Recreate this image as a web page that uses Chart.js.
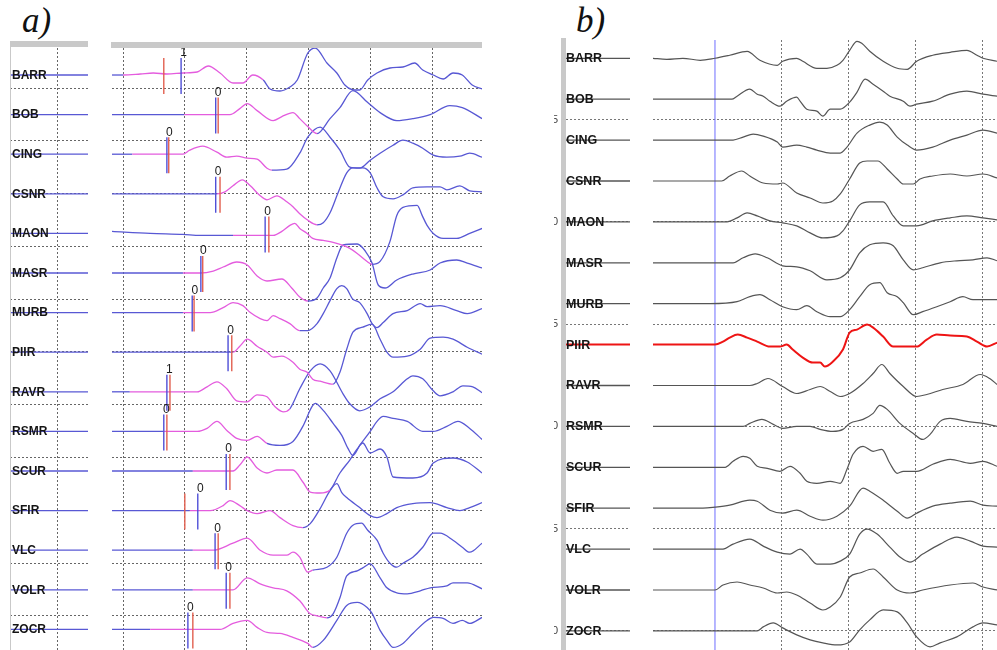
<!DOCTYPE html>
<html>
<head>
<meta charset="utf-8">
<script src="https://cdn.jsdelivr.net/npm/chart.js@4.4.0/dist/chart.umd.min.js"></script>
<style>
body { margin: 0; background: #fff; width: 997px; height: 650px; overflow: hidden; position: relative; }
canvas { position: absolute; }
.tag { position: absolute; font: italic 35px/35px "Liberation Serif", "Times New Roman", serif; color: #111; }
.bar { position: absolute; background: #c9c9c9; z-index: 2; }
</style>
</head>
<body>
<div class="tag" style="left:22px;top:3px">a)</div>
<div class="tag" style="left:576px;top:3px">b)</div>
<div class="bar" style="left:10px;top:41px;width:78px;height:6px"></div>
<div class="bar" style="left:10px;top:41px;width:1px;height:609px"></div>
<div class="bar" style="left:111px;top:42px;width:371px;height:6px"></div>
<div class="bar" style="left:561px;top:38px;width:5px;height:612px"></div>
<canvas id="stripA" width="78" height="602" style="left:10px;top:48px"></canvas>
<canvas id="mainA" width="370" height="602" style="left:112px;top:48px"></canvas>
<canvas id="stripB" width="81" height="610" style="left:549px;top:40px"></canvas>
<canvas id="mainB" width="344" height="610" style="left:653px;top:40px"></canvas>
<script>
// stations, top to bottom
const stations = ['BARR', 'BOB', 'CING', 'CSNR', 'MAON', 'MASR', 'MURB', 'PIIR', 'RAVR', 'RSMR', 'SCUR', 'SFIR', 'VLC', 'VOLR', 'ZOCR'];

// panel a picks (s) and their weights
const pickBlueA = [0.94, 1.50, 0.71, 1.50, 2.30, 1.26, 1.12, 1.70, 0.71, 0.66, 1.67, 1.21, 1.49, 1.67, 1.05];
const pickRedA = [0.66, 1.54, 0.74, 1.57, 2.36, 1.29, 1.15, 1.76, 0.76, 0.71, 1.73, 1.00, 1.54, 1.73, 1.13];
const pickWeightA = ['1', '0', '0', '0', '0', '0', '0', '0', '1', '0', '0', '0', '0', '0', '0'];
// window shown in pink (start, end) per station
const pinkA = [[0, 2.27], [0.99, 3.14], [0.15, 2.41], [1.52, 3.14], [1.78, 4.03], [0.97, 2.99], [0.97, 2.86], [1.78, 3.4],
  [0.11, 2.7], [0.65, 2.33], [1.13, 3.35], [1.08, 2.91], [1.13, 3.07], [1.13, 3.3], [0.44, 3.07]];

// grid positions
const timeGridA = [0, 1, 2, 3, 4, 5];
const rowGridA = [0.34, 1.67, 3.01, 4.34, 5.67, 7.01, 8.34, 9.67, 11.01, 12.34, 13.67];
const stripGridA = [0.615];
const timeGridB = [1, 2, 3, 4];
const rowGridB = [0, 2.5, 5, 7.5, 10, 12.5];
const cutTickB = ['0', '5', '0', '5', '0', '5'];   // last digits of the clipped distance labels

// panel a traces: [time s, amplitude]
const barrA = [[-0.18,0],[0,0],[0.28,1],[0.49,2],[0.71,1],[0.97,2],[1.2,3],[1.38,9],[1.57,2],[1.78,-8],[1.94,-8],[2.1,0],[2.27,-5],[2.38,-14],[2.54,-16],[2.7,-12],[2.82,-5],[2.99,22],[3.11,27],[3.3,12],[3.46,2],[3.59,-10],[3.75,-15],[3.83,-15],[3.96,-5],[4.11,2],[4.32,7],[4.53,8],[4.72,12],[4.85,5],[5.02,0],[5.18,-4],[5.34,2],[5.49,0],[5.65,-10],[5.81,-14]];
const bobA = [[-0.18,0],[0.99,0],[1.73,0],[1.89,6],[2.01,11],[2.17,4],[2.43,-6],[2.57,-2],[2.75,2],[2.86,-4],[2.99,-12],[3.14,-19],[3.35,-4],[3.51,7],[3.72,24],[3.96,12],[4.16,2],[4.43,-6],[4.69,-4],[4.97,0],[5.29,9],[5.49,7],[5.81,-4]];
const cingA = [[-0.18,0],[0.15,0],[0.97,0],[1.08,4],[1.29,8],[1.52,2],[1.68,-3],[1.84,-2],[2.01,-4],[2.17,-5],[2.33,-14],[2.41,-16],[2.65,-15],[2.86,1],[2.99,17],[3.19,27],[3.35,17],[3.51,4],[3.67,-13],[3.83,-14],[4,-6],[4.16,1],[4.37,9],[4.53,14],[4.69,11],[4.85,6],[5.02,-1],[5.24,-3],[5.45,-2],[5.61,1],[5.81,-3]];
const csnrA = [[-0.18,0],[1.52,0],[1.65,2],[1.78,8],[1.93,14],[2.06,8],[2.22,-2],[2.33,-6],[2.49,-2],[2.65,-8],[2.75,-13],[2.86,-20],[2.98,-26],[3.14,-31],[3.24,-29],[3.35,-19],[3.48,1],[3.62,21],[3.72,26],[3.88,26],[4,21],[4.11,6],[4.21,-3],[4.37,-5],[4.53,-1],[4.69,6],[4.92,7],[5.13,7],[5.24,4],[5.45,8],[5.61,3],[5.81,2]];
const maonA = [[-0.18,2],[0.44,0],[0.97,-1],[1.25,-2],[1.78,-2],[2.43,-2],[2.57,2],[2.7,8],[2.78,10],[2.86,5],[2.98,0],[3.07,-5],[3.24,-7],[3.4,-9],[3.56,-12],[3.67,-15],[3.79,-20],[3.95,-28],[4.03,-31],[4.16,-28],[4.32,-8],[4.43,18],[4.53,26],[4.76,28],[4.84,18],[4.92,8],[5.02,0],[5.18,-5],[5.4,-5],[5.61,0],[5.81,5]];
const masrA = [[-0.18,0],[0.97,0],[1.25,0],[1.46,2],[1.62,6],[1.84,11],[2.01,8],[2.17,-3],[2.33,-8],[2.57,-6],[2.73,-15],[2.86,-24],[2.99,-28],[3.14,-25],[3.24,-15],[3.35,-5],[3.46,15],[3.56,28],[3.79,29],[3.92,22],[4.03,10],[4.13,-12],[4.24,-15],[4.43,-7],[4.69,-1],[4.97,3],[5.13,10],[5.4,13],[5.57,10],[5.81,5]];
const murbA = [[-0.18,0],[0.97,0],[1.41,0],[1.62,5],[1.78,10],[1.94,7],[2.06,0],[2.22,-6],[2.33,-8],[2.43,-3],[2.54,-6],[2.7,-11],[2.86,-18],[2.99,-18],[3.14,-11],[3.24,-1],[3.35,12],[3.46,24],[3.54,27],[3.62,24],[3.71,14],[3.83,10],[3.95,-1],[4.03,-11],[4.11,-15],[4.21,-10],[4.37,-1],[4.6,2],[4.81,9],[4.92,6],[5.13,7],[5.4,2],[5.57,-1],[5.81,4]];
const piirA = [[-0.18,0],[1.78,0],[1.89,6],[2.01,13],[2.17,6],[2.33,0],[2.43,-5],[2.57,-4],[2.75,-10],[2.86,-17],[2.98,-20],[3.07,-27],[3.19,-29],[3.4,-32],[3.51,-20],[3.62,3],[3.72,20],[3.88,25],[4.03,28],[4.16,13],[4.27,0],[4.37,-5],[4.6,-4],[4.81,3],[4.97,14],[5.18,15],[5.34,13],[5.57,5],[5.81,-2]];
const ravrA = [[-0.18,0],[0.11,0],[1.2,0],[1.36,5],[1.52,10],[1.68,3],[1.84,-9],[2.01,-10],[2.17,-3],[2.33,-5],[2.46,-15],[2.59,-20],[2.7,-17],[2.86,3],[3.03,21],[3.19,28],[3.35,21],[3.56,-2],[3.67,-12],[3.83,-19],[4,-15],[4.16,-7],[4.37,0],[4.6,13],[4.69,16],[4.85,13],[5.02,1],[5.13,-4],[5.34,0],[5.5,6],[5.66,5],[5.81,-1]];
const rsmrA = [[-0.18,0],[0.65,0],[1.2,0],[1.36,3],[1.52,10],[1.68,1],[1.84,-7],[2.01,-9],[2.17,-5],[2.33,-12],[2.54,-14],[2.75,-10],[2.91,5],[3.06,25],[3.11,28],[3.24,21],[3.4,8],[3.54,-4],[3.64,-17],[3.72,-24],[3.83,-14],[4,0],[4.11,10],[4.21,15],[4.37,13],[4.6,10],[4.85,0],[5.02,0],[5.24,5],[5.42,10],[5.61,3],[5.81,-8]];
const scurA = [[-0.18,0],[1.13,0],[1.78,0],[1.89,6],[2.01,14],[2.17,3],[2.33,-2],[2.49,1],[2.75,1],[2.91,-11],[3.03,-21],[3.19,-22],[3.35,-19],[3.51,-2],[3.67,11],[3.79,22],[3.88,28],[4,18],[4.16,22],[4.27,14],[4.37,-6],[4.69,-7],[4.92,-2],[5.02,8],[5.34,13],[5.57,9],[5.81,-2]];
const sfirA = [[-0.18,0],[1.08,0],[1.41,0],[1.62,5],[1.73,10],[1.89,5],[2.01,0],[2.17,-3],[2.38,0],[2.54,-7],[2.75,-15],[2.91,-17],[3.03,-13],[3.19,2],[3.35,20],[3.46,27],[3.54,18],[3.62,13],[3.83,3],[4,-5],[4.11,-7],[4.27,-3],[4.43,3],[4.69,7],[4.97,8],[5.24,3],[5.45,0],[5.61,3],[5.81,8]];
const vlcA = [[-0.18,0],[1.13,0],[1.46,0],[1.78,7],[2.01,12],[2.22,0],[2.43,-5],[2.65,-5],[2.75,-2],[2.86,-7],[2.99,-22],[3.07,-20],[3.3,-17],[3.46,-7],[3.62,17],[3.72,25],[3.86,27],[3.96,20],[4.11,10],[4.21,-3],[4.32,-13],[4.43,-17],[4.53,-13],[4.69,-7],[4.85,3],[5.02,17],[5.13,17],[5.34,10],[5.49,3],[5.61,-2],[5.81,7]];
const volrA = [[-0.18,0],[1.13,0],[1.78,0],[2.01,12],[2.22,6],[2.43,2],[2.65,-1],[2.86,-11],[3.03,-24],[3.14,-26],[3.3,-28],[3.4,-24],[3.51,-8],[3.62,14],[3.79,19],[3.88,22],[4,26],[4.16,12],[4.27,2],[4.43,-3],[4.6,-4],[4.81,-1],[4.97,2],[5.24,4],[5.34,7],[5.57,7],[5.81,1]];
const zocrA = [[-0.18,0],[0.44,0],[1.57,0],[1.78,6],[2.01,9],[2.17,2],[2.33,-3],[2.54,-4],[2.75,-8],[2.99,-14],[3.07,-18],[3.24,-11],[3.46,9],[3.62,24],[3.79,27],[3.95,22],[4.03,16],[4.16,-1],[4.27,-11],[4.37,-18],[4.53,-14],[4.69,-4],[4.92,9],[5.02,12],[5.18,11],[5.34,6],[5.49,9],[5.61,6],[5.81,12]];

// panel b traces, aligned on the pick: [time s, amplitude]
const barrB = [[-0.93,0],[-0.72,-1],[-0.48,0],[-0.22,-2],[0,0],[0.22,3],[0.48,7],[0.67,-2],[0.93,-7],[1.01,-3],[1.22,0],[1.31,-3],[1.52,-10],[1.67,-10],[1.82,-7],[1.91,-2],[2.01,8],[2.12,17],[2.19,15],[2.31,7],[2.51,-3],[2.72,-10],[2.87,-11],[3.01,-3],[3.25,3],[3.51,6],[3.76,8],[3.91,3],[4,0],[4.21,-3]];
const bobB = [[-0.93,0],[0.25,0],[0.33,3],[0.52,10],[0.63,5],[0.72,3],[0.82,-2],[0.97,-7],[1.07,-2],[1.22,2],[1.27,-2],[1.37,-10],[1.52,-12],[1.61,-17],[1.72,-10],[1.87,-10],[2.01,-3],[2.12,7],[2.24,20],[2.36,15],[2.51,8],[2.61,3],[2.81,-2],[2.91,-7],[3.01,-5],[3.25,-2],[3.51,5],[3.76,8],[4,5],[4.21,3]];
const cingB = [[-0.93,0],[0.27,0],[0.42,3],[0.57,6],[0.72,4],[0.93,-2],[1.01,-7],[1.22,-5],[1.37,-7],[1.52,-10],[1.72,-13],[1.87,-13],[1.97,-7],[2.12,7],[2.31,15],[2.46,18],[2.57,15],[2.72,3],[2.87,-5],[3.01,-10],[3.25,-7],[3.51,0],[3.76,5],[4,10],[4.21,7]];
const csnrB = [[-0.93,0],[0.1,0],[0.22,5],[0.4,10],[0.52,5],[0.72,-2],[0.93,-3],[1.01,-2],[1.22,-12],[1.42,-17],[1.61,-22],[1.76,-20],[1.87,-13],[2.01,2],[2.16,18],[2.27,20],[2.43,20],[2.57,12],[2.72,2],[2.81,-3],[2.96,-3],[3.06,2],[3.25,5],[3.51,7],[3.76,5],[4,7],[4.21,3]];
const maonB = [[-0.93,0],[0.18,0],[0.33,4],[0.48,9],[0.63,6],[0.82,1],[1.01,-1],[1.22,-4],[1.42,-11],[1.61,-16],[1.82,-14],[1.91,-9],[2.01,1],[2.16,17],[2.31,20],[2.51,20],[2.66,6],[2.81,-4],[3.01,-4],[3.25,1],[3.51,4],[3.76,6],[4,4],[4.21,2]];
const masrB = [[-0.93,0],[0.27,0],[0.42,5],[0.6,9],[0.78,5],[1.01,-3],[1.22,-4],[1.42,-8],[1.67,-17],[1.87,-15],[2.01,-7],[2.16,10],[2.31,18],[2.51,20],[2.66,17],[2.81,3],[2.96,-7],[3.1,-5],[3.36,0],[3.61,2],[3.85,3],[4.06,5],[4.21,2]];
const murbB = [[-0.93,0],[-0.07,0],[0.33,2],[0.52,7],[0.67,9],[0.82,4],[1.01,-3],[1.22,-6],[1.37,-2],[1.52,-8],[1.72,-13],[1.87,-13],[2.01,-6],[2.16,7],[2.31,19],[2.46,21],[2.57,11],[2.72,7],[2.81,1],[2.96,-11],[3.1,-8],[3.31,-3],[3.51,2],[3.7,7],[3.85,4],[4.21,4]];
const piirB = [[-0.93,0],[0,0],[0.12,3],[0.22,7],[0.34,10],[0.48,7],[0.63,3],[0.82,-2],[0.97,-2],[1.07,0],[1.16,-5],[1.31,-13],[1.46,-18],[1.57,-18],[1.64,-22],[1.76,-17],[1.91,-5],[2.01,12],[2.12,15],[2.27,20],[2.36,17],[2.51,8],[2.66,-2],[2.81,-2],[3.01,-2],[3.16,5],[3.31,10],[3.51,9],[3.76,8],[3.91,3],[4.06,-2],[4.21,2]];
const ravrB = [[-0.93,0],[0.52,0],[0.63,2],[0.79,7],[1.01,-1],[1.22,-8],[1.42,-4],[1.57,-1],[1.72,-6],[1.87,-11],[2.01,-8],[2.21,2],[2.36,12],[2.49,21],[2.61,12],[2.81,-1],[3.01,-11],[3.16,-9],[3.4,-4],[3.7,1],[3.96,11],[4.1,7],[4.21,1]];
const rsmrB = [[-0.93,0],[0.42,0],[0.52,3],[0.7,7],[0.87,2],[1.01,-2],[1.22,0],[1.42,0],[1.57,-3],[1.76,-5],[1.91,-3],[2.01,3],[2.21,7],[2.36,13],[2.46,21],[2.57,17],[2.76,3],[2.96,-7],[3.1,-13],[3.21,-8],[3.36,5],[3.51,8],[3.76,5],[4,3],[4.21,0]];
const scurB = [[-0.93,0],[0.15,0],[0.27,6],[0.42,11],[0.52,9],[0.63,1],[0.78,-1],[0.97,-4],[1.12,1],[1.27,-6],[1.37,-14],[1.52,-16],[1.72,-14],[1.87,-16],[1.97,-2],[2.06,13],[2.21,21],[2.36,16],[2.49,18],[2.61,4],[2.72,-6],[2.81,-4],[3.01,-4],[3.25,3],[3.51,8],[3.81,4],[4,6],[4.21,1]];
const sfirB = [[-0.93,0],[-0.18,0],[0,1],[0.22,3],[0.52,8],[0.63,7],[0.82,-2],[1.01,-5],[1.22,-2],[1.42,-8],[1.61,-12],[1.82,-8],[2.01,2],[2.21,20],[2.31,17],[2.51,8],[2.72,-3],[2.87,-10],[3.01,-5],[3.25,2],[3.51,5],[3.81,7],[4,3],[4.21,2]];
const vlcB = [[-0.93,0],[0.12,0],[0.27,5],[0.52,10],[0.72,3],[0.93,-3],[1.12,-5],[1.27,0],[1.37,-5],[1.52,-15],[1.72,-15],[1.87,-12],[2.01,-5],[2.16,15],[2.27,20],[2.42,15],[2.61,2],[2.76,-8],[2.91,-13],[3.1,-5],[3.36,5],[3.61,12],[3.81,8],[4,3],[4.21,2]];
const volrB = [[-0.93,0],[0,0],[0.12,5],[0.33,8],[0.52,5],[0.72,2],[0.93,-3],[1.07,-2],[1.22,-5],[1.42,-13],[1.61,-20],[1.72,-17],[1.87,-7],[2.01,13],[2.16,17],[2.36,21],[2.51,13],[2.72,0],[2.91,-3],[3.1,0],[3.51,5],[3.85,7],[4,3],[4.21,0]];
const zocrB = [[-0.93,0],[0.63,0],[0.72,4],[0.87,8],[1.01,3],[1.22,-4],[1.42,-9],[1.61,-12],[1.82,-14],[2.01,-11],[2.16,1],[2.31,11],[2.51,21],[2.72,19],[2.87,8],[3.01,-6],[3.21,-16],[3.36,-12],[3.61,-6],[3.85,4],[4,8],[4.21,6]];

const tracesA = [barrA, bobA, cingA, csnrA, maonA, masrA, murbA, piirA, ravrA, rsmrA, scurA, sfirA, vlcA, volrA, zocrA];
const tracesB = [barrB, bobB, cingB, csnrB, maonB, masrB, murbB, piirB, ravrB, rsmrB, scurB, sfirB, vlcB, volrB, zocrB];

const BLUE = 'rgb(88,88,212)';
const PINK = 'rgb(228,92,222)';
const PICK_BLUE = 'rgb(80,80,215)';
const PICK_RED = 'rgb(226,96,80)';
const GREY = 'rgb(85,85,85)';
const HILITE = 'rgb(238,20,20)';

const GAIN_A = 1 / 39.6;
const GAIN_B = 1 / 40.9;
const Y_A = [-0.52, 14.682];
const Y_B = [-0.467, 14.447];

function traceData(pairs, row, gain) {
    return pairs.map(function (p) { return {x: p[0], y: row + p[1] * gain}; });
}

function gridAxis(min, max, ticks, color, dash) {
    return {
        type: 'linear', min: min, max: max, z: 1,
        afterBuildTicks: function (scale) {
            scale.ticks = ticks.map(function (v) { return {value: v}; });
        },
        grid: {color: color, drawTicks: false, lineWidth: 1},
        border: {display: false, dash: dash},
        ticks: {display: false}
    };
}

function chartOptions(xAxis, yAxis, padLeft) {
    return {
        responsive: false, animation: false, devicePixelRatio: 1, events: [],
        layout: {padding: {left: padLeft || 0, right: 0, top: 0, bottom: 0}},
        plugins: {legend: {display: false}, tooltip: {enabled: false}},
        elements: {point: {radius: 0}, line: {borderWidth: 1.2, tension: 0}},
        scales: {x: xAxis, y: yAxis}
    };
}

function stationLabels(font, dx) {
    return {
        id: 'stationLabels',
        afterDraw: function (chart) {
            const ctx = chart.ctx, y = chart.scales.y;
            ctx.save();
            ctx.font = font;
            ctx.fillStyle = '#151515';
            ctx.textBaseline = 'middle';
            stations.forEach(function (name, i) {
                ctx.fillText(name, chart.chartArea.left + dx, y.getPixelForValue(14 - i) + 0.5);
            });
            ctx.restore();
        }
    };
}

// ---- panel a, station strip
new Chart(document.getElementById('stripA'), {
    type: 'line',
    data: {datasets: stations.map(function (s, i) {
        return {data: [{x: 0, y: 14 - i}, {x: 1, y: 14 - i}], borderColor: BLUE, borderWidth: 1.3};
    })},
    options: chartOptions(gridAxis(0, 1, stripGridA, '#666', [2, 2]), gridAxis(Y_A[0], Y_A[1], rowGridA, '#666', [2, 2])),
    plugins: [stationLabels('bold 12px "Liberation Sans", Arial, sans-serif', 2)]
});

// ---- panel a, records with picks
let datasetsA = [];
tracesA.forEach(function (pairs, i) {
    const ps = pinkA[i][0], pe = pinkA[i][1];
    datasetsA.push({
        data: traceData(pairs, 14 - i, GAIN_A),
        borderColor: BLUE, borderWidth: 1.3, cubicInterpolationMode: 'monotone', order: 2,
        segment: {
            borderColor: function (ctx) {
                const m = (ctx.p0.parsed.x + ctx.p1.parsed.x) / 2;
                return (m > ps && m < pe) ? PINK : BLUE;
            }
        }
    });
});
stations.forEach(function (s, i) {
    const row = 14 - i;
    datasetsA.push({data: [{x: pickRedA[i], y: row + 17 * GAIN_A}, {x: pickRedA[i], y: row - 19 * GAIN_A}],
        borderColor: PICK_RED, borderWidth: 1.4, order: 1});
    datasetsA.push({data: [{x: pickBlueA[i], y: row + 17 * GAIN_A}, {x: pickBlueA[i], y: row - 19 * GAIN_A}],
        borderColor: PICK_BLUE, borderWidth: 1.4, order: 1});
});

new Chart(document.getElementById('mainA'), {
    type: 'line',
    data: {datasets: datasetsA},
    options: chartOptions(gridAxis(-0.178, 5.809, timeGridA, '#666', [2, 2]), gridAxis(Y_A[0], Y_A[1], rowGridA, '#666', [2, 2])),
    plugins: [{
        id: 'pickWeights',
        afterDraw: function (chart) {
            const ctx = chart.ctx, x = chart.scales.x, y = chart.scales.y;
            ctx.save();
            ctx.font = '12px "Liberation Sans", Arial, sans-serif';
            ctx.fillStyle = '#1a1a1a';
            ctx.textAlign = 'center';
            ctx.textBaseline = 'middle';
            pickWeightA.forEach(function (w, i) {
                ctx.fillText(w, x.getPixelForValue(pickBlueA[i]) + 2.5, y.getPixelForValue(14 - i + 22 * GAIN_A));
            });
            ctx.restore();
        }
    }]
});

// ---- panel b, station strip (with the clipped distance digits on its left)
new Chart(document.getElementById('stripB'), {
    type: 'line',
    data: {datasets: stations.map(function (s, i) {
        return {data: [{x: 0, y: 14 - i}, {x: 1, y: 14 - i}],
            borderColor: s === 'PIIR' ? HILITE : GREY, borderWidth: s === 'PIIR' ? 2 : 1.3};
    })},
    options: chartOptions(gridAxis(0, 1, [], '#777', [2, 2]), gridAxis(Y_B[0], Y_B[1], rowGridB, '#777', [2, 2]), 17),
    plugins: [stationLabels('bold 12.5px "Liberation Sans", Arial, sans-serif', 0), {
        id: 'cutDigits',
        afterDraw: function (chart) {
            const ctx = chart.ctx, y = chart.scales.y;
            ctx.save();
            ctx.beginPath();
            ctx.rect(5, 0, 8, chart.height);
            ctx.clip();
            ctx.font = '11px "Liberation Sans", Arial, sans-serif';
            ctx.fillStyle = '#444';
            ctx.textAlign = 'right';
            ctx.textBaseline = 'middle';
            rowGridB.forEach(function (v, k) {
                ctx.fillText(cutTickB[k], 9, y.getPixelForValue(v));
            });
            ctx.restore();
        }
    }]
});

// ---- panel b, aligned records
let datasetsB = tracesB.map(function (pairs, i) {
    const hi = stations[i] === 'PIIR';
    return {data: traceData(pairs, 14 - i, GAIN_B), borderColor: hi ? HILITE : GREY,
        borderWidth: hi ? 2 : 1.2, cubicInterpolationMode: 'monotone', order: 2};
});
datasetsB.push({data: [{x: 0, y: Y_B[0]}, {x: 0, y: Y_B[1]}], borderColor: 'rgb(110,110,255)', borderWidth: 1, order: 3});

new Chart(document.getElementById('mainB'), {
    type: 'line',
    data: {datasets: datasetsB},
    options: chartOptions(gridAxis(-0.925, 4.209, timeGridB, '#777', [2, 2]), gridAxis(Y_B[0], Y_B[1], rowGridB, '#777', [2, 2]))
});
</script>
</body>
</html>
